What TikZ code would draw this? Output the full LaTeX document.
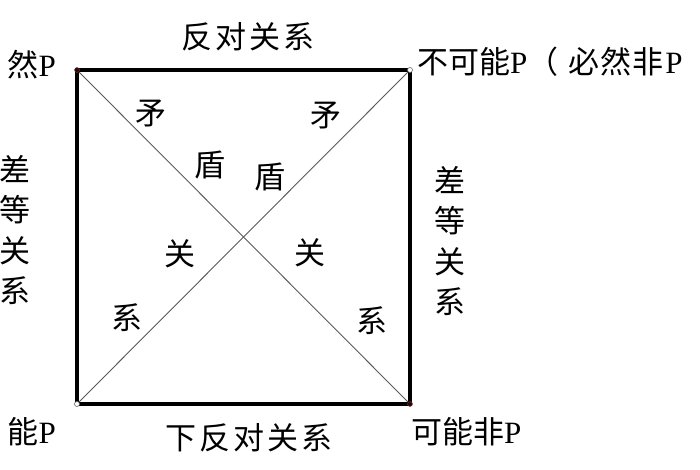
\documentclass[tikz,border=0pt]{standalone}
\usepackage{fontspec}
\setmainfont{Liberation Serif}
\newfontfamily\cjk{Noto Sans CJK SC}
\newfontfamily\cjkwide[LetterSpace=10]{Noto Sans CJK SC}
\newcommand\PP{{\rmfamily P}}
\begin{document}
\begin{tikzpicture}[x=1pt,y=-1pt,
  lbl/.style={inner sep=0pt, font=\fontsize{31}{40.5}\selectfont\cjk, align=center},
  title/.style={inner sep=0pt, font=\fontsize{31}{36}\selectfont\cjkwide},
  edge/.style={line width=3.4pt, line cap=round, line join=miter},
  diag/.style={line width=0.9pt, draw=black!65},
  dotdark/.style={circle, inner sep=0pt, minimum size=5pt, fill=black!60!red!60!black, draw=black!70},
  dotlight/.style={circle, inner sep=0pt, minimum size=5pt, fill=white, draw=black!60, line width=0.6pt}]
\useasboundingbox (0,0) rectangle (700,470);
\coordinate (TL) at (77,70);
\coordinate (TR) at (410,70);
\coordinate (BL) at (77,404);
\coordinate (BR) at (410,404);
\draw[diag] (TL) -- (BR);
\draw[diag] (TR) -- (BL);
\draw[edge] (TL) -- (TR) -- (BR) -- (BL) -- cycle;
\node[dotdark] (dTL) at (TL) {};
\node[dotlight] (dTR) at (TR) {};
\node[dotlight] (dBL) at (BL) {};
\node[dotdark] (dBR) at (BR) {};
% corner labels
\node[lbl, anchor=west] (ltr) at (417,62) {不可能\PP（\hspace{10pt}必\hspace{1pt}然\hspace{1pt}非\hspace{2pt}\PP};
\node[lbl, anchor=east] (ltl) at (56,65) {然\PP};
\node[lbl, anchor=east] (lbl1) at (56,432) {能\PP};
\node[lbl, anchor=west] (lbr) at (411,432) {可能非\PP};
% relation titles
\node[title] (top) at (248,37) {反对关系};
\node[title] (bot) at (249,438) {下反对关系};
\node[lbl] (left) at (15,230) {差\\等\\关\\系};
\node[lbl] (right) at (450,241) {差\\等\\关\\系};
% diagonal labels
\node[lbl] (m1) at (151,113) {矛};
\node[lbl] (d1) at (210,165) {盾};
\node[lbl] (g1) at (180,254) {关};
\node[lbl] (x1) at (127,318) {系};
\node[lbl] (m2) at (326,115) {矛};
\node[lbl] (d2) at (270,177) {盾};
\node[lbl] (g2) at (310,253) {关};
\node[lbl] (x2) at (372,321) {系};
\end{tikzpicture}
\end{document}
